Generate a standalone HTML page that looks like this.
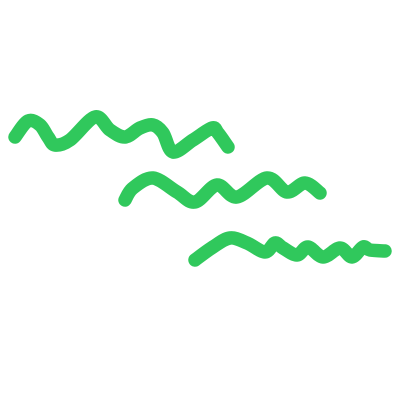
<!DOCTYPE html>
<html><head><meta charset="utf-8"><style>
html,body{margin:0;padding:0;background:#fff;width:400px;height:400px;overflow:hidden}
</style></head><body>
<svg id="c" width="400" height="400" viewBox="0 0 400 400"></svg>
<script>
const line1 = [[15,137],[28,121],[40,125],[48,137],[55,145],[70,140],[95,117],[110,130],[125,137],[140,128],[153,125],[163,133],[173,152],[193,140],[212,128],[218,133],[228,147]];
const line2 = [[125,200],[133,188],[153,178],[177,192],[195,202],[217,185],[237,197],[267,178],[287,192],[305,183],[320,193]];
const line3 = [[195,260],[213,247],[230,238],[247,243],[265,252],[275,243],[283,248],[297,255],[308,247],[323,257],[340,248],[352,257],[363,247],[370,250],[385,251]];
const svg = document.getElementById('c');
const names = ['wavy-line-top','wavy-line-middle','wavy-line-bottom'];
[line1,line2,line3].forEach((pts,i)=>{
  let d = 'M'+pts[0][0]+' '+pts[0][1];
  const t = 0.5/3;
  for(let k=0;k<pts.length-1;k++){
    const p0=pts[Math.max(0,k-1)], p1=pts[k], p2=pts[k+1], p3=pts[Math.min(pts.length-1,k+2)];
    const c1x=p1[0]+(p2[0]-p0[0])*t, c1y=p1[1]+(p2[1]-p0[1])*t;
    const c2x=p2[0]-(p3[0]-p1[0])*t, c2y=p2[1]-(p3[1]-p1[1])*t;
    d+=' C'+c1x.toFixed(1)+' '+c1y.toFixed(1)+' '+c2x.toFixed(1)+' '+c2y.toFixed(1)+' '+p2[0]+' '+p2[1];
  }
  const p=document.createElementNS('http://www.w3.org/2000/svg','path');
  p.setAttribute('d',d);
  p.setAttribute('fill','none');
  p.setAttribute('stroke','#30c85c');
  p.setAttribute('stroke-width','13.5');
  p.setAttribute('stroke-linecap','round');
  p.setAttribute('stroke-linejoin','round');
  
  
  svg.appendChild(p);
});
</script>
</body></html>
